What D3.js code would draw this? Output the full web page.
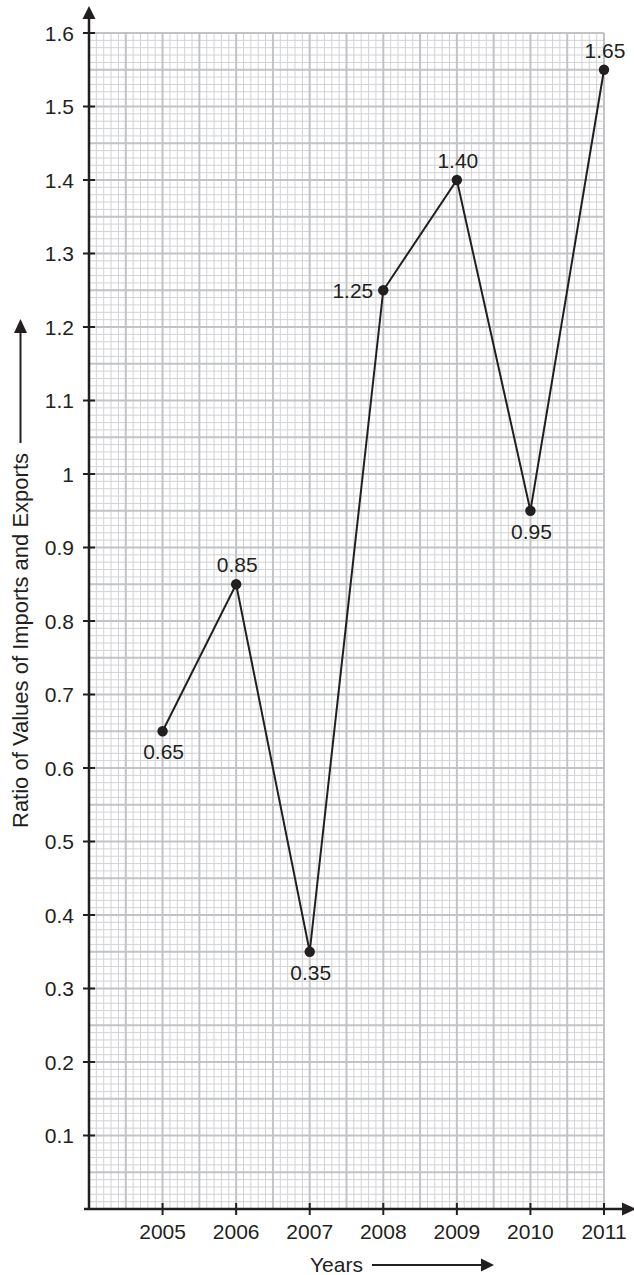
<!DOCTYPE html>
<html>
<head>
<meta charset="utf-8">
<script src="https://cdn.jsdelivr.net/npm/d3@7/dist/d3.min.js"></script>
<style>
  html, body { margin: 0; padding: 0; background: #fff; }
  svg { display: block; }
  text { font-family: "Liberation Sans", Arial, sans-serif; fill: #231f20; }
</style>
</head>
<body>
<svg id="chart" width="634" height="1275"></svg>
<script>
// ---- data ----
const years = [2005, 2006, 2007, 2008, 2009, 2010, 2011];
const ratios = [0.65, 0.85, 0.35, 1.25, 1.40, 0.95, 1.55];
const pointLabels = ["0.65", "0.85", "0.35", "1.25", "1.40", "0.95", "1.65"];
const labelSide = ["below", "above", "below", "left", "above", "below", "above"];
const yTickValues = [0.1, 0.2, 0.3, 0.4, 0.5, 0.6, 0.7, 0.8, 0.9, 1, 1.1, 1.2, 1.3, 1.4, 1.5, 1.6];
const yTickLabels = ["0.1", "0.2", "0.3", "0.4", "0.5", "0.6", "0.7", "0.8", "0.9", "1", "1.1", "1.2", "1.3", "1.4", "1.5", "1.6"];
const xTickLabels = ["2005", "2006", "2007", "2008", "2009", "2010", "2011"];
const xTitle = "Years";
const yTitle = "Ratio of Values of Imports and Exports";

// ---- layout ----
const svg = d3.select("#chart");
const ink = "#231f20";
const x = d3.scaleLinear().domain([2004, 2011]).range([89, 604]);
const y = d3.scaleLinear().domain([0, 1.6]).range([1209, 33]);

// ---- grid ----
const grid = svg.append("g");
const xMinor = d3.range(0, 71).map(i => 2004 + i / 10);
const yMinor = d3.range(0, 161).map(i => i / 100);
const fineX = xMinor.filter((d, i) => i % 5 !== 0);
const thickX = xMinor.filter((d, i) => i % 5 === 0);
const fineY = yMinor.filter((d, i) => i % 5 !== 0);
const thickY = yMinor.filter((d, i) => i % 5 === 0);

grid.selectAll(".fx").data(fineX).enter().append("line")
  .attr("x1", d => x(d)).attr("x2", d => x(d))
  .attr("y1", y(0)).attr("y2", y(1.6))
  .attr("stroke", "#d2d3d5").attr("stroke-width", 1);
grid.selectAll(".fy").data(fineY).enter().append("line")
  .attr("y1", d => y(d)).attr("y2", d => y(d))
  .attr("x1", x(2004)).attr("x2", x(2011))
  .attr("stroke", "#d2d3d5").attr("stroke-width", 1);
grid.selectAll(".tx").data(thickX).enter().append("line")
  .attr("x1", d => x(d)).attr("x2", d => x(d))
  .attr("y1", y(0)).attr("y2", y(1.6))
  .attr("stroke", "#c2c3c6").attr("stroke-width", 2);
grid.selectAll(".ty").data(thickY).enter().append("line")
  .attr("y1", d => y(d)).attr("y2", d => y(d))
  .attr("x1", x(2004)).attr("x2", x(2011))
  .attr("stroke", "#c2c3c6").attr("stroke-width", 2);

// ---- axes ----
const axes = svg.append("g");
// y axis line + arrow
axes.append("line").attr("x1", x(2004)).attr("x2", x(2004))
  .attr("y1", y(0)).attr("y2", 16).attr("stroke", ink).attr("stroke-width", 2.5);
axes.append("path")
  .attr("d", `M${x(2004)},6 L${x(2004) - 6.5},19 L${x(2004) + 6.5},19 Z`)
  .attr("fill", ink);
// x axis line + arrow
axes.append("line").attr("x1", 84).attr("x2", 624)
  .attr("y1", y(0)).attr("y2", y(0)).attr("stroke", ink).attr("stroke-width", 2.5);
axes.append("path")
  .attr("d", `M636,${y(0)} L622,${y(0) - 6.5} L622,${y(0) + 6.5} Z`)
  .attr("fill", ink);

// y ticks
axes.selectAll(".ytick").data(yTickValues).enter().append("line")
  .attr("x1", x(2004) - 6).attr("x2", x(2004) + 6)
  .attr("y1", d => y(d)).attr("y2", d => y(d))
  .attr("stroke", ink).attr("stroke-width", 2);
axes.selectAll(".ylab").data(yTickValues).enter().append("text")
  .attr("x", 74).attr("y", d => y(d) + 7.5)
  .attr("text-anchor", "end").attr("font-size", 21)
  .text((d, i) => yTickLabels[i]);

// x ticks
axes.selectAll(".xtick").data(years).enter().append("line")
  .attr("x1", d => x(d)).attr("x2", d => x(d))
  .attr("y1", y(0) - 6).attr("y2", y(0) + 6)
  .attr("stroke", ink).attr("stroke-width", 2);
axes.selectAll(".xlab").data(years).enter().append("text")
  .attr("x", d => x(d)).attr("y", 1239)
  .attr("text-anchor", "middle").attr("font-size", 21)
  .text((d, i) => xTickLabels[i]);

// x title with arrow
axes.append("text").attr("x", 310).attr("y", 1272).attr("font-size", 21).text(xTitle);
axes.append("line").attr("x1", 372).attr("x2", 484).attr("y1", 1265).attr("y2", 1265)
  .attr("stroke", ink).attr("stroke-width", 2);
axes.append("path").attr("d", "M494,1265 L481,1258.5 L481,1271.5 Z").attr("fill", ink);

// y title with arrow
axes.append("text")
  .attr("transform", "translate(28,828) rotate(-90)")
  .attr("font-size", 22).text(yTitle);
axes.append("line").attr("x1", 20.5).attr("x2", 20.5).attr("y1", 443).attr("y2", 330)
  .attr("stroke", ink).attr("stroke-width", 2);
axes.append("path").attr("d", "M20.5,319 L14,333 L27,333 Z").attr("fill", ink);

// ---- series ----
const pts = years.map((yr, i) => ({ yr, v: ratios[i], lab: pointLabels[i], side: labelSide[i] }));
const line = d3.line().x(d => x(d.yr)).y(d => y(d.v));
svg.append("path").datum(pts).attr("d", line)
  .attr("fill", "none").attr("stroke", ink).attr("stroke-width", 2);
svg.selectAll(".dot").data(pts).enter().append("circle")
  .attr("cx", d => x(d.yr)).attr("cy", d => y(d.v)).attr("r", 5.2).attr("fill", ink);
svg.selectAll(".plab").data(pts).enter().append("text")
  .attr("font-size", 21)
  .attr("text-anchor", d => d.side === "left" ? "end" : "middle")
  .attr("x", d => d.side === "left" ? x(d.yr) - 10 : x(d.yr) + 1)
  .attr("y", d => d.side === "above" ? y(d.v) - 12 : d.side === "below" ? y(d.v) + 28 : y(d.v) + 7.5)
  .text(d => d.lab);
</script>
</body>
</html>
